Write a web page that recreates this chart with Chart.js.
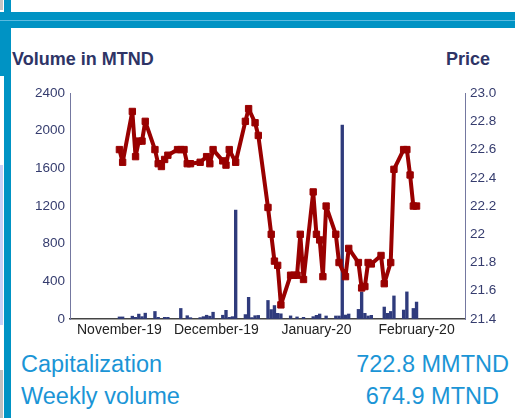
<!DOCTYPE html>
<html>
<head>
<meta charset="utf-8">
<script src="https://cdn.jsdelivr.net/npm/chart.js@4.4.1/dist/chart.umd.min.js"></script>
<style>
  body { margin: 0; width: 515px; height: 418px; overflow: hidden; background: #fff; position: relative;
         font-family: "Liberation Sans", Arial, sans-serif; }
  .abs { position: absolute; }
  .title { font-size: 18px; line-height: 18px; font-weight: bold; color: #2e3466; white-space: nowrap; }
  .info { font-size: 23.5px; line-height: 24px; color: #1b95d6; white-space: nowrap; }
  canvas { display: block; }
</style>
</head>
<body>
<div class="abs" style="left:0;top:0;width:3px;height:10px;background:#c4c4c4"></div>
<div class="abs" style="left:4px;top:0;width:7px;height:418px;background:#0093c4"></div>
<div class="abs" style="left:0;top:12px;width:515px;height:16px;background:#0093c4"></div>
<div class="abs" style="left:0;top:20px;width:515px;height:1px;background:#5bbbe0"></div>
<div class="abs" style="left:0;top:28px;width:11px;height:48px;background:#0093c4"></div>
<div class="abs" style="left:0;top:165px;width:3px;height:160px;background:#c9d1f7"></div>
<div class="abs" style="left:0;top:370px;width:3px;height:48px;background:#c0c0c0"></div>

<div class="abs title" style="left:12px;top:50px">Volume in MTND</div>
<div class="abs title" style="right:25px;top:50px">Price</div>

<div class="abs" style="left:0;top:80px;width:515px;height:265px">
  <canvas id="chart" width="515" height="265"></canvas>
</div>

<div class="abs info" style="left:21px;top:352px">Capitalization</div>
<div class="abs info" style="right:6px;top:352px">722.8 MMTND</div>
<div class="abs info" style="left:21px;top:384px">Weekly volume</div>
<div class="abs info" style="right:16px;top:384px">674.9 MTND</div>

<script>
// days counted from 31 Oct 2019
const priceDays = [0, 1, 4, 5, 6, 7, 8, 11, 12, 13, 14, 15, 18, 19, 20, 21, 22, 25, 27, 28, 29,
  32, 33, 34, 36, 39, 40, 42, 43, 46, 47, 48, 49, 50, 53, 54, 55, 56, 57, 60, 61, 62, 63, 64,
  67, 68, 70, 71, 74, 75, 76, 77, 78, 81, 82, 84, 85, 88, 89, 90, 91, 92];
const prices = [22.6, 22.51, 22.87, 22.55, 22.66, 22.66, 22.8, 22.6, 22.5, 22.48, 22.53, 22.56, 22.6, 22.6, 22.6, 22.5, 22.5, 22.51, 22.55, 22.5, 22.6,
  22.52, 22.49, 22.6, 22.51, 22.8, 22.89, 22.79, 22.7, 22.19, 22.0, 21.81, 21.78, 21.5, 21.71, 21.71, 21.71, 22.0, 21.68, 22.3, 22.0, 21.96, 21.7, 22.2,
  22.0, 21.8, 21.7, 21.9, 21.8, 21.62, 21.63, 21.8, 21.79, 21.85, 21.65, 21.8, 22.46, 22.6, 22.6, 22.42, 22.2, 22.2];

const volumeDays = [0, 1, 4, 5, 6, 7, 8, 11, 12, 14, 15, 19, 21, 22, 25, 26, 27, 28, 29, 32, 33, 34, 35, 36,
  39, 40, 41, 42, 43, 46, 47, 48, 49, 50, 53, 55, 57, 60, 61, 62, 64, 67, 68, 69, 70, 71,
  74, 75, 76, 77, 78, 82, 83, 84, 85, 88, 89, 91, 92];
const volumes = [22, 22, 30, 18, 52, 25, 62, 80, 18, 18, 18, 112, 35, 14, 15, 25, 40, 30, 72, 40, 92, 18, 25, 1157,
  47, 230, 15, 35, 38, 197, 100, 143, 60, 55, 33, 22, 18, 25, 39, 53, 32, 32, 32, 2060, 42, 53,
  102, 288, 60, 32, 39, 127, 60, 80, 245, 95, 288, 112, 180];

const monthTickDays = [0, 30, 61, 92];
const monthLabels = ["November-19", "December-19", "January-20", "February-20"];
const volumeTicks = [0, 400, 800, 1200, 1600, 2000, 2400];
const priceTicks = [21.4, 21.6, 21.8, 22, 22.2, 22.4, 22.6, 22.8, 23.0];
const priceTickLabels = ["21.4", "21.6", "21.8", "22", "22.2", "22.4", "22.6", "22.8", "23.0"];

const tickFont = { family: "'Liberation Sans', Arial, sans-serif", size: 13.5 };

new Chart(document.getElementById("chart"), {
  type: "bar",
  data: {
    datasets: [
      {
        type: "line",
        order: 0,
        yAxisID: "y1",
        data: priceDays.map((d, i) => ({ x: d, y: prices[i] })),
        borderColor: "#990000",
        backgroundColor: "#990000",
        borderWidth: 4,
        borderJoinStyle: "round",
        borderCapStyle: "round",
        pointStyle: "rect",
        pointRadius: 4.5,
        pointBorderWidth: 1,
        tension: 0
      },
      {
        type: "bar",
        order: 1,
        yAxisID: "y",
        data: volumeDays.map((d, i) => ({ x: d, y: volumes[i] })),
        backgroundColor: "#2f3b7c",
        barThickness: 2.7
      }
    ]
  },
  options: {
    responsive: false,
    animation: false,
    layout: { padding: { top: 11, left: 0, right: 0, bottom: 0 } },
    plugins: { legend: { display: false }, tooltip: { enabled: false } },
    scales: {
      x: {
        type: "linear",
        min: -15.3,
        max: 107,
        offset: false,
        afterBuildTicks: (scale) => { scale.ticks = monthTickDays.map(v => ({ value: v })); },
        afterFit: (scale) => { scale.height = 26; },
        ticks: {
          autoSkip: false,
          maxRotation: 0,
          padding: 3,
          color: "#222",
          font: { family: tickFont.family, size: 14 },
          callback: (v, i) => monthLabels[i]
        },
        grid: { display: true, drawOnChartArea: false, drawTicks: false },
        border: { display: true, color: "#444", width: 1.5 }
      },
      y: {
        position: "left",
        min: 0,
        max: 2400,
        afterBuildTicks: (scale) => { scale.ticks = volumeTicks.map(v => ({ value: v })); },
        afterFit: (scale) => { scale.width = 70; },
        ticks: {
          padding: 5,
          color: "#353c6e",
          font: tickFont,
          callback: (v, i) => String(volumeTicks[i])
        },
        grid: { display: true, drawOnChartArea: false, drawTicks: false },
        border: { display: true, color: "#7478a0", width: 1 }
      },
      y1: {
        position: "right",
        min: 21.4,
        max: 23.0,
        afterBuildTicks: (scale) => { scale.ticks = priceTicks.map(v => ({ value: v })); },
        afterFit: (scale) => { scale.width = 50; },
        ticks: {
          padding: 5,
          color: "#353c6e",
          font: tickFont,
          callback: (v, i) => priceTickLabels[i]
        },
        grid: { display: true, drawOnChartArea: false, drawTicks: false },
        border: { display: true, color: "#7478a0", width: 1 }
      }
    }
  }
});
</script>
</body>
</html>
